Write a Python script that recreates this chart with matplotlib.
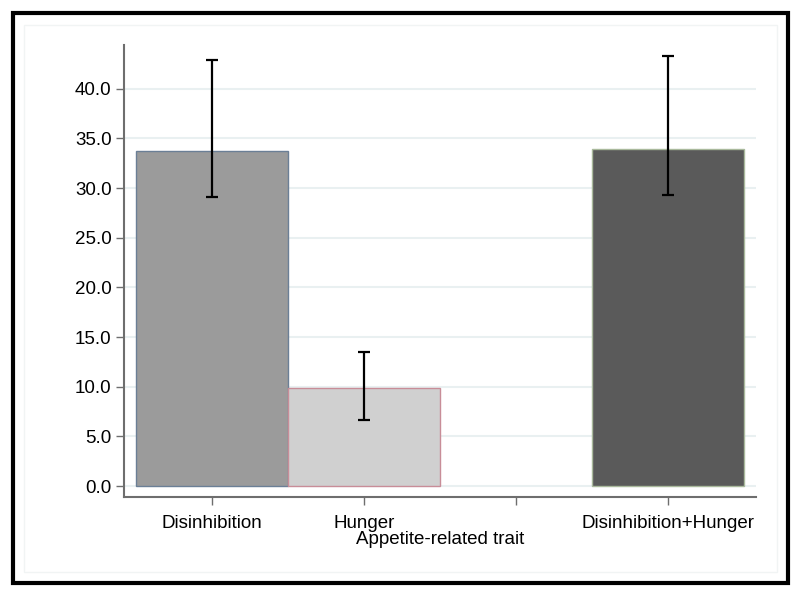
import matplotlib
matplotlib.use("Agg")
import matplotlib.pyplot as plt
from matplotlib.patches import Rectangle

plt.rcParams['font.family'] = ['Liberation Sans', 'DejaVu Sans']

categories = ["Disinhibition", "Hunger", "", "Disinhibition+Hunger"]
values = [33.75, 9.9, None, 33.9]
err_low = [29.1, 6.65, None, 29.35]
err_high = [42.9, 13.47, None, 43.25]
fills = ["#9b9b9b", "#d0d0d0", None, "#5a5a5a"]
edges = ["#6b7f96", "#c88d98", None, "#a9b99c"]
yticks = [0, 5, 10, 15, 20, 25, 30, 35, 40]
xlabel = "Appetite-related trait"

W, H = 800, 596
fig = plt.figure(figsize=(W / 100, H / 100), dpi=100)
fig.patch.set_facecolor("white")

# outer frame and faint inner frame
fig.add_artist(Rectangle((24 / W, 1 - 572 / H), (777 - 24) / W, (572 - 25) / H,
                         transform=fig.transFigure, fill=False,
                         edgecolor="#f1f4f4", lw=1))
fig.add_artist(Rectangle((13 / W, 1 - 583 / H), (788 - 13) / W, (583 - 13) / H,
                         transform=fig.transFigure, fill=False,
                         edgecolor="black", lw=3.0))

ax = fig.add_axes([124 / W, 1 - 497 / H, (756 - 124) / W, (497 - 45) / H])
ax.set_facecolor("white")

for i, v in enumerate(values):
    if v is None:
        continue
    ax.bar(i, v, width=1.0, color=fills[i], edgecolor=edges[i], linewidth=1.0, zorder=3)
    ax.errorbar(i, v, yerr=[[v - err_low[i]], [err_high[i] - v]], fmt="none",
                ecolor="black", elinewidth=1.6, capsize=4.5, capthick=1.6, zorder=4)

ax.set_xlim(-0.579, 3.579)
ax.set_ylim(-1.1, 44.4)
ax.set_yticks(yticks)
ax.set_yticklabels([f"{t:.1f}" for t in yticks], fontsize=13.5)
ax.set_xticks(range(len(categories)))
ax.set_xticklabels(categories, fontsize=13.5)
ax.set_xlabel(xlabel, fontsize=13.5, labelpad=-1)

ax.grid(axis="y", color="#e9f0f1", linewidth=1.5, zorder=0)
ax.set_axisbelow(True)
for s in ["top", "right"]:
    ax.spines[s].set_visible(False)
for s in ["left", "bottom"]:
    ax.spines[s].set_color("#6e6e6e")
    ax.spines[s].set_linewidth(1.5)
ax.tick_params(axis="both", direction="out", length=6, width=1.0, color="#6e6e6e",
               labelcolor="black", pad=3)
ax.tick_params(axis="x", pad=7)

fig.savefig("out.png", dpi=100, facecolor="white")
